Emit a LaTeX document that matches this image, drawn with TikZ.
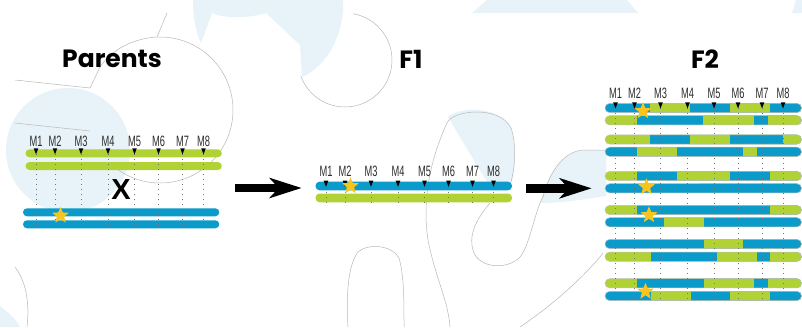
\documentclass[tikz,border=0pt]{standalone}
\usepackage{fontspec}
\setmainfont{Liberation Sans}
\newfontfamily\titlefont{Poppins}
\usetikzlibrary{arrows.meta,shapes.geometric}

\definecolor{chromblue}{HTML}{0A9BCB}
\definecolor{chromgreen}{HTML}{B1D234}
\definecolor{stargold}{HTML}{F8C51C}
\definecolor{bgblue}{HTML}{E7F3F8}
\definecolor{bgline}{HTML}{B8B8B8}
\definecolor{labelgray}{HTML}{2E2E2E}

\tikzset{
  bgl/.style={draw=bgline, line width=0.5pt},
  title/.style={anchor=base, inner sep=0pt, font=\titlefont\bfseries\fontsize{25}{25}\selectfont},
  mlabel/.style={anchor=base, inner sep=0pt, text=labelgray, font=\fontsize{15}{15}\selectfont},
  markline/.style={draw=black!55, line width=0.6pt, dash pattern=on 0.8pt off 4.2pt},
  barshape/.style={rounded corners=4pt},
  baredge/.style={draw=black!25, line width=0.5pt},
  goldstar/.style={star, star points=5, star point ratio=2.3, minimum size=17.5pt,
                   inner sep=0pt, fill=stargold, draw=none},
  stagearrow/.style={line width=8.5pt, -{Stealth[length=32pt, width=20pt, inset=9pt]}},
}

% marker set: #1 name prefix, #2 x of M1, #3 label baseline, #4 top of dotted lines, #5 bottom
\newcommand\markerset[5]{%
  \foreach \off [count=\i] in {0,19,45,72,98.5,122.5,146.5,167.5} {
    \draw[markline] (#2+\off,#4) -- (#2+\off,#5);
    \fill[black] (#2+\off-2.3,#4-1) -- (#2+\off+2.3,#4-1) -- (#2+\off,#4+5) -- cycle;
    \node[mlabel] (#1-m\i) at (#2+\off,#3) {\scalebox{0.62}[1]{M\i}};
  }}

% recombinant chromosome: #1 centre y, #2 first colour, #3 list of x/colour switches
\newcommand\ftwobar[3]{%
  \begin{scope}
    \clip[rounded corners=4.6pt] (605,#1-4.6) rectangle (801.5,#1+4.6);
    \fill[#2] (600,#1-6) rectangle (805,#1+6);
    \foreach \sx/\sc in {#3} {\fill[\sc] (\sx,#1-6) rectangle (805,#1+6);}
  \end{scope}
  \draw[baredge, rounded corners=4.6pt] (605,#1-4.6) rectangle (801.5,#1+4.6);
}

\begin{document}
\begin{tikzpicture}[x=1pt, y=-1pt]
\useasboundingbox (0,0) rectangle (802,327);
\fill[white] (0,0) rectangle (802,327);

% ---- faint jigsaw backdrop ----
\fill[bgblue] (193,0) -- (343,0) .. controls (345,35) and (325,68) .. (302,77)
  -- (300,45) -- (266,13) .. controls (250,18) and (225,19) .. (212,13)
  -- (201,43) .. controls (195,30) and (193,15) .. cycle;
\fill[bgblue] (487,0) -- (627,0) -- (638,13) -- (472,13) -- cycle;
\fill[bgblue] (796,0) -- (802,0) -- (802,13) -- (792,13) -- cycle;
\fill[bgblue] (68,150) circle (62);
\fill[bgblue] (448,117) .. controls (460,106) and (500,106) .. (511,128)
  .. controls (516,145) and (515,165) .. (512,182) -- (487,182) -- cycle;
\fill[bgblue] (540,203) .. controls (548,175) and (560,152) .. (585,150) -- (606,150)
  -- (606,196) .. controls (580,200) and (560,203) .. cycle;
\fill[bgblue] (0,306) .. controls (8,312) and (15,318) .. (20,327) -- (0,327) -- cycle;

\draw[bgl] (167,13) -- (157,37);
\draw[bgl] (15,80) -- (90,88) -- (100,67) .. controls (115,45) and (140,38) .. (157,37);
\draw[bgl] (160,110) ++(268:73) arc[start angle=268, end angle=492, radius=73];
\draw[bgl] (15,123) -- (90,131);
\draw[bgl] (345,60) ++(-80:47) arc[start angle=-80, end angle=160, radius=47];
\draw[bgl] (447,123) .. controls (452,110) and (500,105) .. (511,128)
  .. controls (517,145) and (515,170) .. (510,185);
\draw[bgl] (447,123) .. controls (430,160) and (422,200) .. (428,240)
  .. controls (436,280) and (448,300) .. (450,327);
\draw[bgl] (490,203) .. controls (480,215) and (465,235) .. (475,255)
  .. controls (485,270) and (510,268) .. (520,257)
  .. controls (530,245) and (535,210) .. (543,197)
  .. controls (550,170) and (565,150) .. (585,150) -- (606,150);
\draw[bgl] (603,253) .. controls (590,270) and (560,300) .. (520,327);
\draw[bgl] (348,327) .. controls (346,295) and (348,265) .. (358,252)
  .. controls (368,243) and (392,245) .. (399,258)
  .. controls (404,275) and (404,300) .. (404,327);
\draw[bgl] (15,267) .. controls (25,280) and (30,300) .. (27,327);

% ---- titles ----
\node[title] (parents) at (112,67.7) {Parents};
\node[title] (f1) at (411,68.3) {F1};
\node[title] (f2) at (705,68.3) {F2};

% ---- parental chromosomes ----
\fill[chromgreen, barshape] (25.5,149.3) rectangle (221.8,157.3);
\fill[chromgreen, barshape] (25.5,162) rectangle (221.8,170);
\fill[chromblue, barshape] (23,208.3) rectangle (219.3,216.3);
\fill[chromblue, barshape] (23,220.3) rectangle (219.3,228.3);
\markerset{par}{36}{146}{149.3}{228.5}
\node[inner sep=0pt, font=\bfseries\fontsize{29}{29}\selectfont] (cross) at (121,190) {X};

% ---- F1 chromosomes ----
\fill[chromblue, barshape] (315.5,181.7) rectangle (512,190.3);
\fill[chromgreen, barshape] (315.5,193.5) rectangle (512,202.3);
\markerset{fone}{326}{176}{181.7}{202.3}

% ---- F2 chromosomes ----
\ftwobar{108}{chromblue}{650/chromgreen, 690/chromblue, 730/chromgreen, 770/chromblue}
\ftwobar{120.3}{chromgreen}{637/chromblue, 703/chromgreen, 754/chromblue, 768/chromgreen}
\ftwobar{139.5}{chromgreen}{650/chromblue, 690/chromgreen, 730/chromblue, 783/chromgreen}
\ftwobar{151.8}{chromblue}{637/chromgreen, 677/chromblue, 743/chromgreen, 757/chromblue}
\ftwobar{176}{chromgreen}{637/chromblue, 677/chromgreen, 730/chromblue, 770/chromgreen}
\ftwobar{188.3}{chromblue}{700/chromblue}
\ftwobar{210}{chromgreen}{637/chromblue, 770/chromgreen}
\ftwobar{222.3}{chromblue}{664/chromgreen, 704/chromblue}
\ftwobar{244}{chromblue}{704/chromgreen, 743/chromblue}
\ftwobar{256.7}{chromgreen}{650.7/chromblue, 717/chromgreen, 757/chromblue, 770/chromgreen}
\ftwobar{283.3}{chromgreen}{637/chromblue, 704/chromgreen, 754/chromblue, 768/chromgreen}
\ftwobar{296}{chromblue}{650.7/chromgreen, 690.7/chromblue, 730/chromgreen, 770/chromblue}
\markerset{ftwo}{615.5}{98}{103.4}{300.6}

% ---- marked allele ----
\node[goldstar] (s-par) at (60.5,215.5) {};
\node[goldstar] (s-fone) at (350.5,186) {};
\node[goldstar] (s-ftwo-a) at (643,111) {};
\node[goldstar] (s-ftwo-b) at (646.5,187) {};
\node[goldstar] (s-ftwo-c) at (649,215) {};
\node[goldstar] (s-ftwo-d) at (645.5,291.5) {};

% ---- generation arrows ----
\coordinate (a1s) at (235,188);
\coordinate (a1e) at (301.7,188);
\coordinate (a2s) at (525.7,188.3);
\coordinate (a2e) at (591.7,188.3);
\draw[stagearrow] (a1s) -- (a1e);
\draw[stagearrow] (a2s) -- (a2e);
\end{tikzpicture}
\end{document}
